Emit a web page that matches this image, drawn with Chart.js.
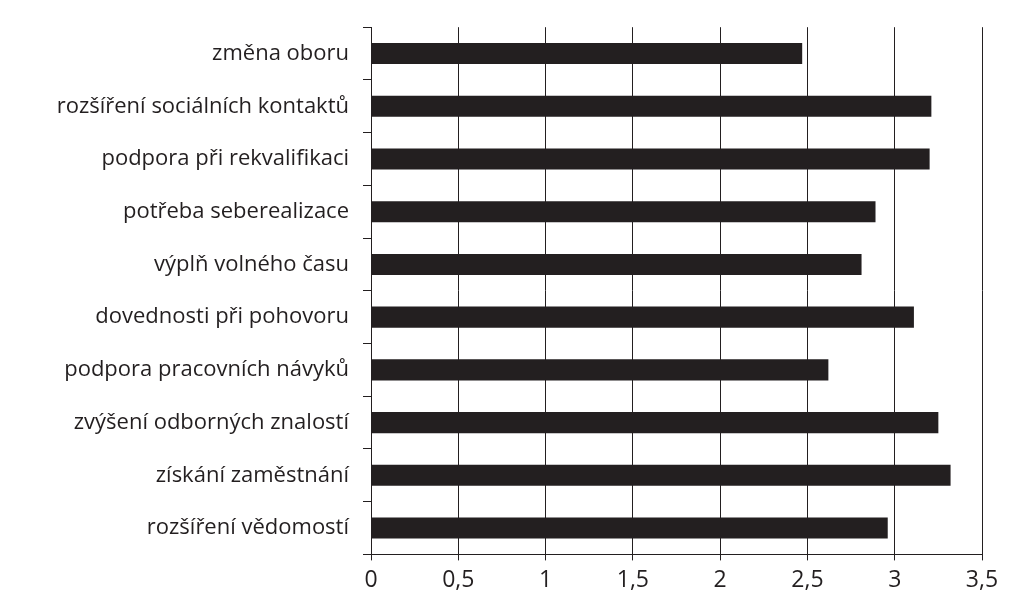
<!DOCTYPE html>
<html>
<head>
<meta charset="utf-8">
<script src="https://cdn.jsdelivr.net/npm/chart.js@4"></script>
<style>
  html, body { margin: 0; padding: 0; background: #fff; }
  #wrap { width: 1024px; height: 614px; }
</style>
</head>
<body>
<div id="wrap"><canvas id="chart" width="1024" height="614"></canvas></div>
<script>
// Kategorie a hodnoty
const categories = [
  'změna oboru',
  'rozšíření sociálních kontaktů',
  'podpora při rekvalifikaci',
  'potřeba seberealizace',
  'výplň volného času',
  'dovednosti při pohovoru',
  'podpora pracovních návyků',
  'zvýšení odborných znalostí',
  'získání zaměstnání',
  'rozšíření vědomostí'
];
const values = [2.47, 3.21, 3.20, 2.89, 2.81, 3.11, 2.62, 3.25, 3.32, 2.96];
const xTicks = ['0', '0,5', '1', '1,5', '2', '2,5', '3', '3,5'];

const ctx = document.getElementById('chart').getContext('2d');
new Chart(ctx, {
  type: 'bar',
  data: {
    labels: categories,
    datasets: [{
      data: values,
      backgroundColor: '#231f20',
      barPercentage: 0.4,
      categoryPercentage: 1
    }]
  },
  options: {
    indexAxis: 'y',
    responsive: false,
    animation: false,
    layout: { padding: { top: 22, right: 42, bottom: 14, left: 0 } },
    plugins: { legend: { display: false }, tooltip: { enabled: false } },
    scales: {
      x: {
        min: 0, max: 3.5,
        ticks: {
          stepSize: 0.5,
          color: '#231f20',
          font: { family: 'Open Sans', size: 23 },
          padding: 6,
          callback: (v, i) => xTicks[i]
        },
        grid: { color: '#231f20', lineWidth: 1, drawTicks: true, tickLength: 6 },
        border: { color: '#231f20' }
      },
      y: {
        afterFit: (s) => { s.width = 371; },
        ticks: {
          color: '#231f20',
          font: { family: 'Open Sans', size: 22 },
          padding: 14
        },
        grid: { offset: true, drawOnChartArea: false, color: '#231f20', tickLength: 8 },
        border: { color: '#231f20' }
      }
    }
  }
});
</script>
</body>
</html>
